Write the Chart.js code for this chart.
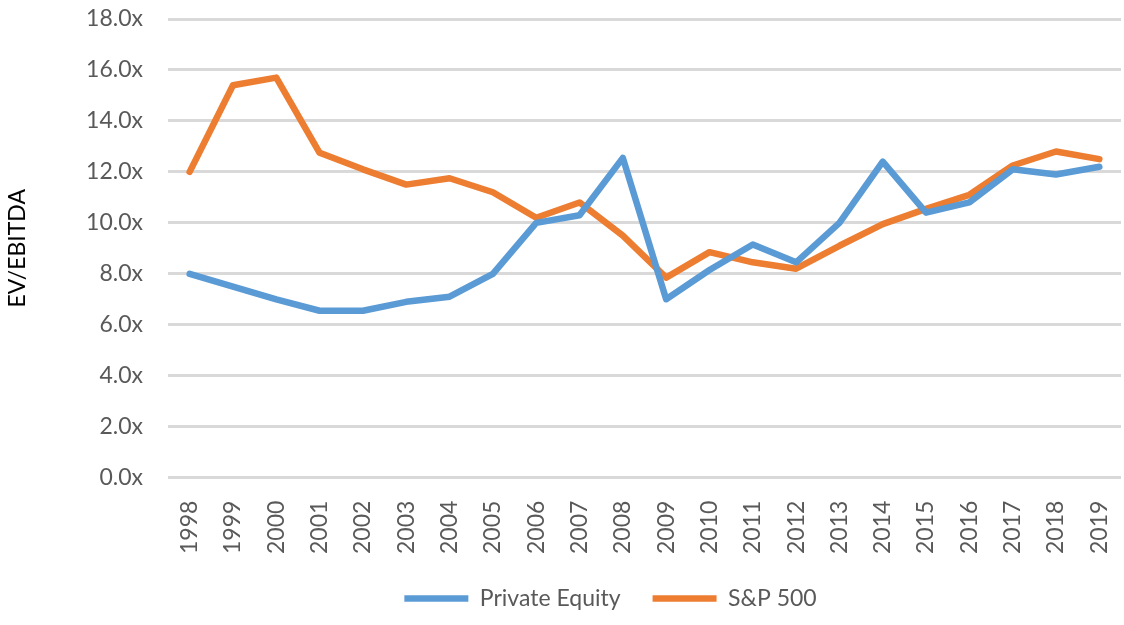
<!DOCTYPE html>
<html>
<head>
<meta charset="utf-8">
<script src="https://cdn.jsdelivr.net/npm/chart.js@4/dist/chart.umd.min.js"></script>
<style>
  html, body { margin: 0; padding: 0; background: #fff; }
  #wrap { width: 1124px; height: 625px; }
</style>
</head>
<body>
<div id="wrap"><canvas id="chart" width="1124" height="625"></canvas></div>
<script>
// EV/EBITDA multiples, 1998-2019
var YEARS = ['1998', '1999', '2000', '2001', '2002', '2003', '2004', '2005', '2006', '2007', '2008',
  '2009', '2010', '2011', '2012', '2013', '2014', '2015', '2016', '2017', '2018', '2019'];
var PRIVATE_EQUITY = [8.0, 7.5, 7.0, 6.55, 6.55, 6.9, 7.1, 8.0, 10.0, 10.3, 12.55,
  7.0, 8.15, 9.15, 8.45, 10.0, 12.4, 10.4, 10.8, 12.1, 11.9, 12.2];
var SP500 = [12.0, 15.4, 15.7, 12.75, 12.1, 11.5, 11.75, 11.2, 10.2, 10.8, 9.5,
  7.85, 8.85, 8.45, 8.2, 9.1, 9.95, 10.55, 11.1, 12.25, 12.8, 12.5];
var Y_MIN = 0, Y_MAX = 18, Y_STEP = 2;

var TEXT = '#595959';
var FONT = 'Lato, "Open Sans", sans-serif';

function lineSet(label, data, color) {
  return {
    label: label,
    data: data,
    borderColor: color,
    backgroundColor: color,
    borderWidth: 6.5,
    borderJoinStyle: 'round',
    borderCapStyle: 'round',
    pointRadius: 0,
    pointHoverRadius: 0,
    tension: 0,
    fill: false,
  };
}

// nudge the legend to the right, like the original sits slightly off-centre
var legendShift = {
  id: 'legendShift',
  afterLayout: function (chart) {
    if (!chart.legend) return;
    chart.legend.left += 50;
    chart.legend.right += 50;
  },
};

new Chart(document.getElementById('chart'), {
  type: 'line',
  data: {
    labels: YEARS,
    datasets: [
      lineSet('Private Equity', PRIVATE_EQUITY, '#5B9BD5'),
      lineSet('S&P 500', SP500, '#ED7D31'),
    ],
  },
  plugins: [legendShift],
  options: {
    responsive: false,
    animation: false,
    layout: { padding: { top: 19, right: 3, left: 0, bottom: 5 } },
    plugins: {
      tooltip: { enabled: false },
      legend: {
        position: 'bottom',
        labels: {
          color: TEXT,
          font: { family: FONT, size: 23 },
          usePointStyle: true,
          pointStyle: 'line',
          pointStyleWidth: 64,
          padding: 32,
        },
      },
    },
    scales: {
      x: {
        offset: true,
        afterFit: function (scale) {
          scale.paddingLeft = 0;
          scale.paddingRight = 0;
          scale.height = scale.height - 22;
        },
        grid: { display: false, drawTicks: false },
        border: { display: false },
        ticks: {
          color: TEXT,
          font: { family: FONT, size: 23 },
          minRotation: 90,
          maxRotation: 90,
          padding: 23,
          autoSkip: false,
        },
      },
      y: {
        min: Y_MIN,
        max: Y_MAX,
        afterFit: function (scale) {
          scale.width = 168;
          scale.paddingTop = 0;
          scale.paddingBottom = 0;
        },
        grid: { color: '#D9D9D9', lineWidth: 3, drawTicks: false },
        border: { display: false },
        title: {
          display: true,
          text: 'EV/EBITDA',
          color: '#000',
          font: { family: FONT, size: 23 },
          padding: { top: 4, bottom: 4 },
        },
        ticks: {
          stepSize: Y_STEP,
          color: TEXT,
          font: { family: FONT, size: 23 },
          padding: 25,
          callback: function (v) { return v.toFixed(1) + 'x'; },
        },
      },
    },
  },
});
</script>
</body>
</html>
